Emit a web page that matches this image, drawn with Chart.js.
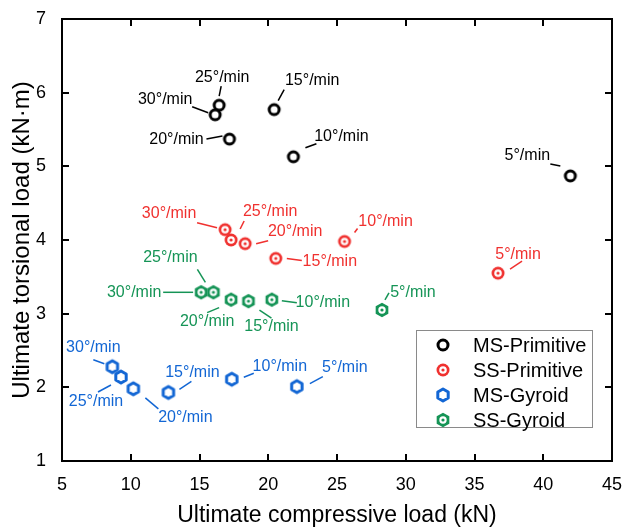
<!DOCTYPE html>
<html>
<head>
<meta charset="utf-8">
<script src="https://cdn.jsdelivr.net/npm/chart.js@4.4.0/dist/chart.umd.min.js"></script>
<style>
  html, body { margin: 0; padding: 0; background: #fff; }
</style>
</head>
<body>
<canvas id="chart" width="638" height="527"></canvas>
<script>
// loading rates, same order in every series
const rates = ['5°/min', '10°/min', '15°/min', '20°/min', '25°/min', '30°/min'];
const seriesNames = ['MS-Primitive', 'SS-Primitive', 'MS-Gyroid', 'SS-Gyroid'];

// ultimate compressive load (kN) / ultimate torsional load (kN·m)
const msPrimX = [41.97, 21.83, 20.43, 17.18, 16.43, 16.14];
const msPrimY = [4.87, 5.13, 5.77, 5.37, 5.83, 5.70];
const ssPrimX = [36.71, 25.55, 20.55, 18.32, 17.30, 16.86];
const ssPrimY = [3.55, 3.98, 3.75, 3.95, 4.00, 4.14];
const msGyrX = [22.08, 17.35, 12.74, 10.19, 9.29, 8.66];
const msGyrY = [2.01, 2.11, 1.93, 1.98, 2.14, 2.28];
const ssGyrX = [28.27, 20.26, 18.56, 17.30, 16.01, 15.12];
const ssGyrY = [3.05, 3.19, 3.17, 3.19, 3.29, 3.29];

const xTicks = [5, 10, 15, 20, 25, 30, 35, 40, 45];
const yTicks = [1, 2, 3, 4, 5, 6, 7];

const colors = ['#000000', '#f0312f', '#1266d4', '#159456'];

// label placement in px relative to each point: text centre, leader start, leader end
const textOff = [
  [[-43, -20], [48, -20], [38, -29], [-53, 1], [3, -28], [-50, -15]],
  [[20, -19], [41, -20], [54, 3], [50, -12], [39, -28], [-56, -16]],
  [[48, -19], [48, -13], [24, -20], [52, 29], [-25, 25], [-19, -19]],
  [[31, -17], [51, 3], [23, 25], [-24, 22], [-43, -35], [-67, 0]]
];
const lineOff = [
  [[-10, -10, -20, -12], [12, -9, 23, -13], [4, -9, 10, -20], [-7, -3, -23, 0], [0, -9, 2, -19], [-7, -2, -23, -8]],
  [[12, -4, 24, -12], [10, -9, 13, -13], [11, 0, 26, 2], [11, 0, 23, -3], [9, -11, 13, -19], [-8, -2, -28, -7]],
  [[13, -3, 26, -10], [12, -2, 22, -6], [11, -3, 23, -11], [12, 9, 25, 20], [-10, 8, -23, 15], [-8, -3, -19, -7]],
  [[3, -10, 7, -17], [10, 1, 25, 3], [11, 9, 23, 17], [-12, 8, -24, 13], [-8, -10, -16, -23], [-8, 0, -38, 0]]
];

Chart.defaults.font.family = '"Liberation Sans", Arial, sans-serif';
Chart.defaults.color = '#000';

function makeMarker(kind, color) {
  const c = document.createElement('canvas');
  c.width = 18; c.height = 18;
  const g = c.getContext('2d');
  const cx = 9, cy = 9;
  function hex(r) {
    g.beginPath();
    for (let k = 0; k < 6; k++) {
      const a = Math.PI / 2 + k * Math.PI / 3;
      const px = cx + r * Math.cos(a), py = cy - r * Math.sin(a);
      if (k === 0) g.moveTo(px, py); else g.lineTo(px, py);
    }
    g.closePath();
  }
  function disc(r, fill) {
    g.beginPath();
    g.arc(cx, cy, r, 0, Math.PI * 2);
    g.fillStyle = fill;
    g.fill();
  }
  if (kind === 'ring') {
    g.beginPath();
    g.arc(cx, cy, 5, 0, Math.PI * 2);
    g.fillStyle = '#fff';
    g.fill();
    g.lineWidth = 3;
    g.strokeStyle = color;
    g.stroke();
  } else if (kind === 'dotted') {
    disc(6.5, color);
    disc(3.8, '#fff');
    disc(1.6, color);
  } else if (kind === 'hex') {
    hex(6);
    g.fillStyle = '#fff';
    g.fill();
    g.lineWidth = 3;
    g.strokeStyle = color;
    g.lineJoin = 'round';
    g.stroke();
  } else {
    hex(7.3);
    g.fillStyle = color;
    g.fill();
    disc(3.7, '#fff');
    disc(1.6, color);
  }
  return c;
}

const markers = [
  makeMarker('ring', colors[0]),
  makeMarker('dotted', colors[1]),
  makeMarker('hex', colors[2]),
  makeMarker('dottedHex', colors[3])
];

function pts(xs, ys) {
  return xs.map((x, i) => ({ x: x, y: ys[i] }));
}

const seriesData = [pts(msPrimX, msPrimY), pts(ssPrimX, ssPrimY), pts(msGyrX, msGyrY), pts(ssGyrX, ssGyrY)];

// box round the plot with inward ticks on all four sides
const framePlugin = {
  id: 'frame',
  afterDraw(chart) {
    const { ctx, chartArea: a, scales } = chart;
    ctx.save();
    ctx.strokeStyle = '#000';
    ctx.lineWidth = 2;
    ctx.strokeRect(a.left, a.top, a.right - a.left, a.bottom - a.top);
    ctx.beginPath();
    xTicks.forEach(v => {
      const px = Math.round(scales.x.getPixelForValue(v));
      ctx.moveTo(px, a.bottom); ctx.lineTo(px, a.bottom - 7);
      ctx.moveTo(px, a.top); ctx.lineTo(px, a.top + 7);
    });
    yTicks.forEach(v => {
      const py = Math.round(scales.y.getPixelForValue(v));
      ctx.moveTo(a.left, py); ctx.lineTo(a.left + 7, py);
      ctx.moveTo(a.right, py); ctx.lineTo(a.right - 7, py);
    });
    ctx.stroke();
    ctx.restore();
  }
};

// rate labels with short leader lines
const rateLabels = {
  id: 'rateLabels',
  afterDatasetsDraw(chart) {
    const ctx = chart.ctx;
    ctx.save();
    ctx.font = '16px "Liberation Sans", Arial, sans-serif';
    ctx.textAlign = 'center';
    ctx.textBaseline = 'middle';
    chart.data.datasets.forEach((ds, si) => {
      const meta = chart.getDatasetMeta(si);
      meta.data.forEach((el, i) => {
        const l = lineOff[si][i], t = textOff[si][i];
        ctx.strokeStyle = colors[si];
        ctx.fillStyle = colors[si];
        ctx.lineWidth = 1.5;
        ctx.beginPath();
        ctx.moveTo(el.x + l[0], el.y + l[1]);
        ctx.lineTo(el.x + l[2], el.y + l[3]);
        ctx.stroke();
        ctx.fillText(rates[i], el.x + t[0], el.y + t[1]);
      });
    });
    ctx.restore();
  }
};

// legend box in the lower right of the plot
const boxLegend = {
  id: 'boxLegend',
  afterDraw(chart) {
    const ctx = chart.ctx;
    const left = 416, top = 330, w = 176, h = 97;
    ctx.save();
    ctx.fillStyle = '#fff';
    ctx.fillRect(left, top, w, h);
    ctx.strokeStyle = '#8a8a8a';
    ctx.lineWidth = 1;
    ctx.strokeRect(left + 0.5, top + 0.5, w, h);
    ctx.font = '20px "Liberation Sans", Arial, sans-serif';
    ctx.textAlign = 'left';
    ctx.textBaseline = 'middle';
    ctx.fillStyle = '#000';
    chart.data.datasets.forEach((ds, si) => {
      const cy = top + 15 + si * 25;
      ctx.drawImage(markers[si], 443 - 9, cy - 9);
      ctx.fillText(ds.label, 473, cy + 1);
    });
    ctx.restore();
  }
};

new Chart(document.getElementById('chart'), {
  type: 'scatter',
  data: {
    datasets: seriesNames.map((name, si) => ({
      label: name,
      data: seriesData[si],
      pointStyle: markers[si],
      pointRadius: 7,
      borderColor: colors[si],
      backgroundColor: colors[si]
    }))
  },
  options: {
    responsive: false,
    animation: false,
    layout: { autoPadding: false, padding: { top: 19, right: 26, left: 0, bottom: 0 } },
    plugins: { legend: { display: false }, tooltip: { enabled: false } },
    scales: {
      x: {
        type: 'linear', min: 5, max: 45,
        afterBuildTicks: s => { s.ticks = xTicks.map(v => ({ value: v })); },
        afterFit: s => { s.height = 66; },
        grid: { display: false },
        border: { display: false },
        ticks: { font: { size: 18 }, color: '#000', padding: 5, maxRotation: 0 },
        title: {
          display: true, text: 'Ultimate compressive load (kN)', color: '#000',
          font: { size: 23, lineHeight: 1 }, padding: { top: 0, bottom: 0 }
        }
      },
      y: {
        type: 'linear', min: 1, max: 7,
        afterBuildTicks: s => { s.ticks = yTicks.map(v => ({ value: v })); },
        afterFit: s => { s.width = 62; },
        grid: { display: false },
        border: { display: false },
        ticks: { font: { size: 18 }, color: '#000', padding: 8 },
        title: {
          display: true, text: 'Ultimate torsional load (kN·m)', color: '#000',
          font: { size: 24, lineHeight: 1 }, padding: { top: 10, bottom: 0 }
        }
      }
    }
  },
  plugins: [framePlugin, rateLabels, boxLegend]
});
</script>
</body>
</html>
